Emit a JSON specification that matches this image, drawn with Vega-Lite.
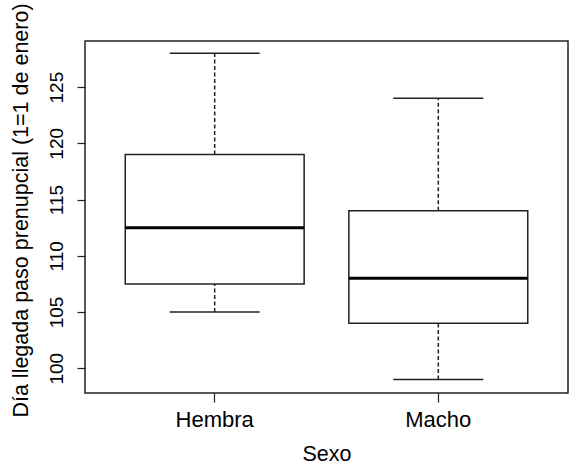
{
  "$schema": "https://vega.github.io/schema/vega-lite/v6.json",
  "width": 483,
  "height": 352,
  "autosize": {"type": "none"},
  "padding": {"left": 85, "top": 41, "right": 4, "bottom": 74},
  "background": "white",
  "config": {
    "view": {"stroke": "#222", "strokeWidth": 1.5},
    "font": "Liberation Sans",
    "axis": {"grid": false, "domain": false, "tickColor": "#222", "tickWidth": 1.2, "labelColor": "black", "titleColor": "black", "titleFontWeight": "normal", "labelFont": "Liberation Sans", "titleFont": "Liberation Sans"}
  },
  "data": {"values": [
    {"Sexo": "Hembra", "lower": 105, "q1": 107.5, "median": 112.5, "q3": 119, "upper": 128},
    {"Sexo": "Macho", "lower": 99, "q1": 104, "median": 108, "q3": 114, "upper": 124}
  ]},
  "encoding": {
    "x": {
      "field": "Sexo", "type": "nominal",
      "scale": {"type": "band", "paddingInner": 0.2, "paddingOuter": 0.18},
      "axis": {"title": "Sexo", "labelAngle": 0, "labelFontSize": 22, "titleFontSize": 21.5, "tickSize": 9, "labelPadding": 7, "titleBaseline": "alphabetic", "titleY": 67.5}
    }
  },
  "layer": [
    {
      "mark": {"type": "rule", "strokeDash": [4, 2.5], "color": "#222", "strokeWidth": 1.5},
      "encoding": {
        "y": {"field": "lower", "type": "quantitative",
          "scale": {"domain": [97.8, 129.1], "nice": false, "zero": false},
          "axis": {"title": "Día llegada paso prenupcial (1=1 de enero)", "values": [100, 105, 110, 115, 120, 125], "labelAngle": -90, "labelAlign": "center", "labelBaseline": "alphabetic", "labelFontSize": 19, "labelPadding": 15, "tickSize": 8, "titleFontSize": 21.5, "titleAngle": -90, "titleAlign": "center", "titleBaseline": "alphabetic", "titleX": -58, "titleY": 169}
        },
        "y2": {"field": "q1"}
      }
    },
    {
      "mark": {"type": "rule", "strokeDash": [4, 2.5], "color": "#222", "strokeWidth": 1.5},
      "encoding": {
        "y": {"field": "q3", "type": "quantitative"},
        "y2": {"field": "upper"}
      }
    },
    {
      "mark": {"type": "tick", "size": 90, "thickness": 1.5, "color": "#222", "opacity": 1},
      "encoding": {"y": {"field": "lower", "type": "quantitative"}}
    },
    {
      "mark": {"type": "tick", "size": 90, "thickness": 1.5, "color": "#222", "opacity": 1},
      "encoding": {"y": {"field": "upper", "type": "quantitative"}}
    },
    {
      "mark": {"type": "bar", "fill": "white", "stroke": "#222", "strokeWidth": 1.5},
      "encoding": {
        "y": {"field": "q1", "type": "quantitative"},
        "y2": {"field": "q3"}
      }
    },
    {
      "mark": {"type": "tick", "size": 179, "thickness": 3, "color": "black", "opacity": 1},
      "encoding": {"y": {"field": "median", "type": "quantitative"}}
    }
  ]
}
